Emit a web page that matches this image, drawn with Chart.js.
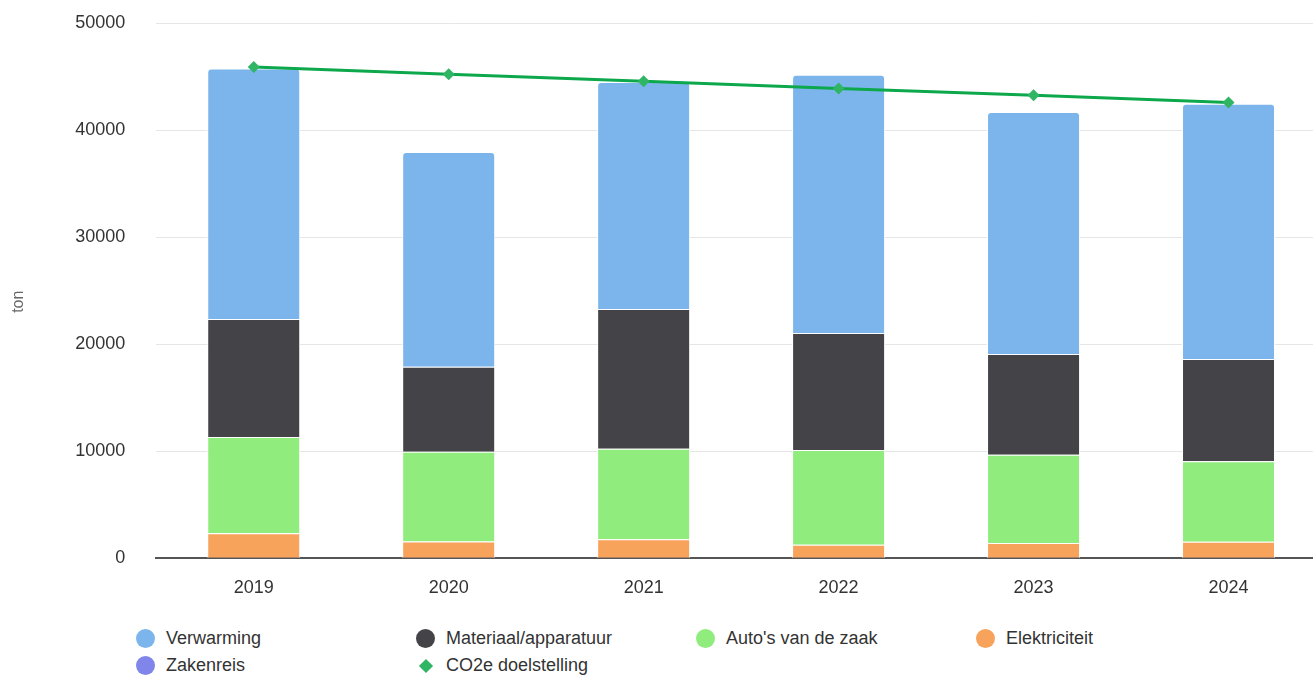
<!DOCTYPE html>
<html>
<head>
<meta charset="utf-8">
<script src="https://cdn.jsdelivr.net/npm/chart.js@4"></script>
<style>
  html, body { margin: 0; padding: 0; background: #fff; }
  body { width: 1313px; height: 675px; position: relative; overflow: hidden; font-family: 'Liberation Sans', Arial, sans-serif; }
  #wrap { position: absolute; left: 0; top: 0; width: 1332px; height: 610px; }
  #legend { position: absolute; left: 136px; top: 625px; display: grid; grid-template-columns: 280px 280px 280px 280px; grid-auto-rows: 27px; }
  .item { display: flex; align-items: center; font-size: 18px; color: #333; white-space: nowrap; }
  .sym { width: 19px; height: 19px; margin-right: 11px; display: flex; align-items: center; justify-content: center; flex: none; }
  .dot { width: 19px; height: 19px; border-radius: 50%; }
  .dia { width: 10px; height: 10px; transform: rotate(45deg); }
</style>
</head>
<body>
<div id="wrap"><canvas id="c"></canvas></div>
<div id="legend"></div>
<script>
const categories = ['2019', '2020', '2021', '2022', '2023', '2024'];
const zakenreis     = [70, 70, 70, 70, 70, 70];
const elektriciteit = [2290, 1500, 1730, 1200, 1360, 1480];
const autos         = [8980, 8400, 8450, 8860, 8240, 7530];
const materiaal     = [11010, 7930, 13030, 10915, 9420, 9540];
const verwarming    = [23390, 20060, 21200, 24130, 22600, 23850];
const doelstelling  = [45890, 45215, 44560, 43880, 43255, 42575];
const yTicks = [0, 10000, 20000, 30000, 40000, 50000];
const yTitle = 'ton';
const legendOrder = ['Verwarming', 'Materiaal/apparatuur', "Auto's van de zaak", 'Elektriciteit', 'Zakenreis', 'CO2e doelstelling'];

const FONT = "'Liberation Sans', Arial, sans-serif";
const barCommon = { borderColor: '#ffffff', borderWidth: 1, categoryPercentage: 1, barPercentage: 0.477, stack: 'bars' };

const datasets = [
  Object.assign({ label: 'Zakenreis', data: zakenreis, backgroundColor: '#8085e9' }, barCommon),
  Object.assign({ label: 'Elektriciteit', data: elektriciteit, backgroundColor: '#f7a35c' }, barCommon),
  Object.assign({ label: "Auto's van de zaak", data: autos, backgroundColor: '#90ed7d' }, barCommon),
  Object.assign({ label: 'Materiaal/apparatuur', data: materiaal, backgroundColor: '#434348' }, barCommon),
  Object.assign({ label: 'Verwarming', data: verwarming, backgroundColor: '#7cb5ec',
    borderRadius: { topLeft: 4, topRight: 4, bottomLeft: 0, bottomRight: 0 } }, barCommon),
  { type: 'line', label: 'CO2e doelstelling', data: doelstelling, stack: 'line', order: -1,
    borderColor: '#0ca84b', borderWidth: 3, tension: 0, fill: false,
    pointStyle: 'rectRot', pointRadius: 6, pointHoverRadius: 6,
    pointBackgroundColor: '#2fb563', pointBorderColor: '#2fb563', pointBorderWidth: 0 }
];

// draws the y-axis title a little below the axis centre (as in the reference)
const yTitlePlugin = {
  id: 'yTitle',
  afterDraw(chart) {
    const { ctx, chartArea } = chart;
    const yScale = chart.scales.y;
    ctx.save();
    ctx.font = '16px ' + FONT;
    ctx.fillStyle = '#666666';
    ctx.textAlign = 'center';
    ctx.textBaseline = 'middle';
    ctx.translate(yScale.left + 19, (chartArea.top + chartArea.bottom) / 2 + 11);
    ctx.rotate(-Math.PI / 2);
    ctx.fillText(yTitle, 0, 0);
    ctx.restore();
  }
};

const chart = new Chart(document.getElementById('c'), {
  type: 'bar',
  data: { labels: categories, datasets: datasets },
  plugins: [yTitlePlugin],
  options: {
    responsive: true,
    maintainAspectRatio: false,
    animation: false,
    layout: { padding: { left: 0, right: 0, top: 23, bottom: 11 } },
    plugins: { legend: { display: false }, tooltip: { enabled: false } },
    scales: {
      x: {
        stacked: true,
        grid: { display: true, drawOnChartArea: false, drawTicks: true, tickLength: 19, tickColor: 'rgba(0,0,0,0)', color: 'rgba(0,0,0,0)' },
        border: { display: true, color: '#555555', width: 2 },
        ticks: { color: '#333333', font: { family: FONT, size: 18 }, padding: 0 }
      },
      y: {
        stacked: true,
        min: 0, max: 50000,
        afterBuildTicks: (axis) => { axis.ticks = yTicks.map(v => ({ value: v })); },
        grid: { color: '#e6e6e6', lineWidth: 1, drawTicks: true, tickLength: 31, tickColor: 'rgba(0,0,0,0)' },
        border: { display: false },
        ticks: { color: '#333333', font: { family: FONT, size: 18 }, padding: 0,
          callback: (v) => String(v) },
        title: { display: true, text: yTitle, color: 'rgba(0,0,0,0)', font: { family: FONT, size: 16 },
          padding: { top: 9, bottom: 47 } }
      }
    }
  }
});

const leg = document.getElementById('legend');
legendOrder.forEach(name => {
  const ds = chart.data.datasets.find(d => d.label === name);
  const item = document.createElement('div');
  item.className = 'item';
  const sym = document.createElement('span');
  sym.className = 'sym';
  const mark = document.createElement('span');
  if (ds.type === 'line') { mark.className = 'dia'; mark.style.background = ds.pointBackgroundColor; }
  else { mark.className = 'dot'; mark.style.background = ds.backgroundColor; }
  sym.appendChild(mark);
  const txt = document.createElement('span');
  txt.textContent = ds.label;
  item.appendChild(sym);
  item.appendChild(txt);
  leg.appendChild(item);
});
</script>
</body>
</html>
